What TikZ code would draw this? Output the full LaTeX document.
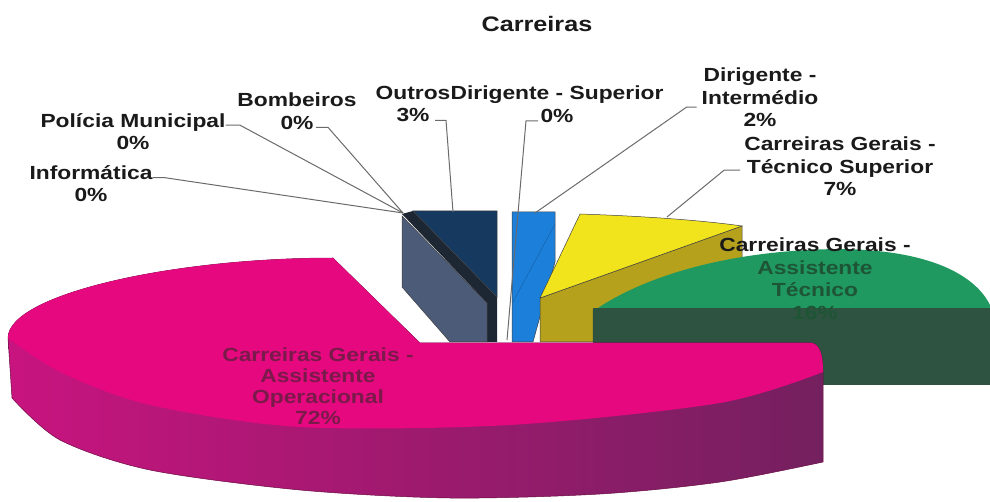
\documentclass[tikz,border=0pt]{standalone}
\usepackage{fontspec}
\newfontfamily\chartfont{Liberation Sans}[FakeStretch=1.2]
\definecolor{lbltext}{HTML}{1A1A1A}
\definecolor{leadergray}{HTML}{6A6A6A}
\definecolor{navy}{HTML}{163A5F}
\definecolor{navyband}{HTML}{1D2633}
\definecolor{slate}{HTML}{4B5B78}
\definecolor{lightblue}{HTML}{1C7FDA}
\definecolor{blueedge}{HTML}{1560A8}
\definecolor{yellowtop}{HTML}{F2E41C}
\definecolor{olive}{HTML}{B5A11C}
\definecolor{greentop}{HTML}{1F9960}
\definecolor{greenside}{HTML}{2E5341}
\definecolor{greenlbl}{HTML}{1E5535}
\definecolor{pinktop}{HTML}{E5087F}
\definecolor{pinkside}{HTML}{C8147F}
\definecolor{pinkmid}{HTML}{A8177A}
\definecolor{pinkdark}{HTML}{74205F}
\definecolor{pinkedge}{HTML}{6A0A40}
\definecolor{pinklbl}{HTML}{7A1A4A}
\begin{document}
\begin{tikzpicture}[x=1pt,y=-1pt,
  lbl/.style={font=\chartfont\bfseries\fontsize{19}{22.5}\selectfont, align=center, inner sep=0pt, anchor=north, text=lbltext},
  leader/.style={draw=leadergray, line width=1pt},
  slice/.style={draw=black!75, line width=0.5pt}]
  \useasboundingbox (0,0) rectangle (990,502);
  % slice ends of the leaders
  \coordinate (tip0) at (403,213);
  \coordinate (tipOutros) at (453,212);
  \coordinate (tipDSup) at (507,340);
  \coordinate (tipDInt) at (535,213);
  \coordinate (tipTSup) at (667,217);
  % Outros
  \fill[navyband] (402,214) -- (413,211) -- (497,297) -- (497,342) -- (487,342) -- (487,303) -- cycle;
  \filldraw[slice, fill=slate] (402,216) -- (487,303) -- (487,342) -- (450,342) -- (402,287) -- cycle;
  \filldraw[slice, fill=navy] (413,211) -- (497,211) -- (497,297) -- cycle;
  % Dirigente - Intermedio
  \filldraw[slice, fill=lightblue] (512,212) -- (555,212) -- (555,262) -- (533,342) -- (512,342) -- cycle;
  \draw[blueedge] (555,224) -- (513,302);
  % Tecnico Superior
  \filldraw[slice, fill=olive] (540,298) -- (742,226) -- (742,300) -- (593,310) -- (593,342) -- (540,342) -- cycle;
  \filldraw[slice, fill=yellowtop] (580,214) .. controls (640,216) and (700,220) .. (742,226) -- (540,298) -- cycle;
  % Assistente Tecnico
  \fill[greenside] (593,308) rectangle (990,385);
  \fill[greentop] (598,308) .. controls (640,280) and (720,250) .. (840,249) .. controls (930,250) and (975,275) .. (990,305) -- (990,308) -- cycle;
  % Assistente Operacional
  \shadedraw[left color=pinkside, middle color=pinkmid, right color=pinkdark, draw=pinkedge, line width=0.5pt]
    (333,258) -- (420,343) -- (812,343) .. controls (820,345) and (823,355) .. (823,372) -- (823,462)
    -- plot[smooth] coordinates {(823,462) (720,482) (600,494) (450,498) (300,490) (150,470) (60,440) (12,398)}
    -- (8,338) .. controls (8,295) and (170,258) .. (333,258) -- cycle;
  \fill[pinktop] (333,258) -- (420,343) -- (812,343) .. controls (820,345) and (823,355) .. (823,372)
    -- plot[smooth] coordinates {(823,372) (720,403) (510,425) (300,427) (150,405) (60,372) (8,338)}
    .. controls (8,295) and (170,258) .. (333,258) -- cycle;
  % labels
  \node[lbl, font=\chartfont\bfseries\fontsize{21}{25}\selectfont] (title) at (537,16) {Carreiras};
  \node[lbl] (policia) at (133,113) {Polícia Municipal\\0\%};
  \node[lbl] (bombeiros) at (297,93) {Bombeiros\\0\%};
  \node[lbl] (informatica) at (91,165) {Informática\\0\%};
  \node[lbl] (outros) at (413,86) {Outros\\3\%};
  \node[lbl] (dsuperior) at (557,86) {Dirigente - Superior\\0\%};
  \node[lbl] (dintermedio) at (760,68) {Dirigente -\\Intermédio\\2\%};
  \node[lbl] (tsuperior) at (840,137) {Carreiras Gerais -\\Técnico Superior\\7\%};
  \node[lbl, text=greenlbl] (atecnico) at (815,238) {\textcolor{lbltext}{Carreiras Gerais -}\\Assistente\\Técnico\\16\%};
  \node[lbl, text=pinklbl, font=\chartfont\bfseries\fontsize{19}{21}\selectfont] (aoperacional) at (318,348) {Carreiras Gerais -\\Assistente\\Operacional\\72\%};
  % leaders
  \draw[leader] ([yshift=6.5pt]policia.east) -- ++(14,0) -- (tip0);
  \draw[leader] ([xshift=19pt,yshift=2.5pt]bombeiros.south) -- ++(12,0) -- (tip0);
  \draw[leader] ([yshift=6pt]informatica.east) -- ++(11,0) -- (tip0);
  \draw[leader] ([xshift=22pt,yshift=2pt]outros.south) -- ++(11,0) -- (tipOutros);
  \draw[leader] ([xshift=-19pt,yshift=2pt]dsuperior.south) -- ++(-12,0) -- (tipDSup);
  \draw[leader] ([xshift=-5pt,yshift=-9.5pt]dintermedio.west) -- ++(-10,0) -- (tipDInt);
  \draw[leader] ([xshift=-4pt,yshift=-3.5pt]tsuperior.west) -- ++(-16,0) -- (tipTSup);
\end{tikzpicture}
\end{document}
